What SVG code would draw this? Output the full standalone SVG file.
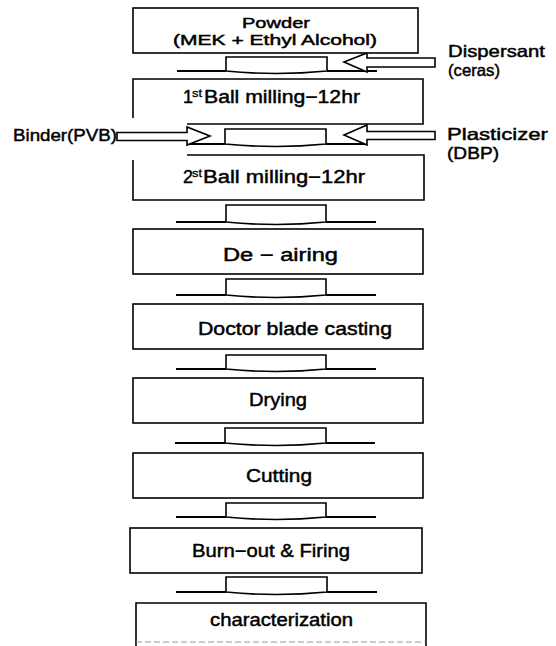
<svg xmlns="http://www.w3.org/2000/svg" width="556" height="646" viewBox="0 0 556 646">
<style>
.box{fill:#fff;stroke:#000;stroke-width:1.6}
.edge{fill:none;stroke:#000;stroke-width:1.6}
.tray{fill:#fff;stroke:#000;stroke-width:1.6}
.base{fill:none;stroke:#000;stroke-width:2}
.arr{fill:#fff;stroke:#000;stroke-width:1.6;stroke-linejoin:miter}
text{font-family:"Liberation Sans",Arial,sans-serif;fill:#000;stroke:#000;stroke-width:0.45}
.lbl{font-size:18px}
.side{font-size:16.5px}
.sm{font-size:14.5px}
.sup{font-size:11px;stroke-width:0.3}
</style>
<rect width="556" height="646" fill="#fff"/>
<g id="connectors">
  <g id="c1">
    <path class="tray" d="M226 71 V57 H327 V71 Q276 76 226 71 Z"/>
    <path class="base" d="M177 71 H226 M327 71 H377"/>
  </g>
  <g id="c2">
    <path class="tray" d="M225 144 V129 H326 V144 Q276 149 225 144 Z"/>
    <path class="base" d="M187 144 H225 M326 144 H367"/>
  </g>
  <g id="c3">
    <path class="tray" d="M226 222 V205 H326 V222 Q276 227 226 222 Z"/>
    <path class="base" d="M176 222 H226 M326 222 H376"/>
  </g>
  <g id="c4">
    <path class="tray" d="M226 295 V279 H326 V295 Q276 300 226 295 Z"/>
    <path class="base" d="M176 295 H226 M326 295 H376"/>
  </g>
  <g id="c5">
    <path class="tray" d="M226 369 V355 H326 V369 Q276 374 226 369 Z"/>
    <path class="base" d="M176 369 H226 M326 369 H376"/>
  </g>
  <g id="c6">
    <path class="tray" d="M225 443 V428 H326 V443 Q276 448 225 443 Z"/>
    <path class="base" d="M175 443 H225 M326 443 H375"/>
  </g>
  <g id="c7">
    <path class="tray" d="M226 517 V503 H326 V517 Q276 522 226 517 Z"/>
    <path class="base" d="M176 517 H226 M326 517 H376"/>
  </g>
  <g id="c8">
    <path class="tray" d="M226 592 V577 H327 V592 Q276 597 226 592 Z"/>
    <path class="base" d="M176 592 H226 M327 592 H377"/>
  </g>
  <g id="arrow-dispersant">
    <polygon class="arr" points="344,62 367,53 367,58 435,58 435,67 367,67 367,72"/>
  </g>
  <g id="arrow-binder">
    <polygon class="arr" points="210,136 187,127 187,132.5 117,132.5 117,140.5 187,140.5 187,145"/>
  </g>
  <g id="arrow-plasticizer">
    <polygon class="arr" points="344,135 367,125 367,131.5 435,131.5 435,139.5 367,139.5 367,145"/>
  </g>
</g>
<g id="powder">
  <rect class="box" x="133" y="8" width="285" height="45"/>
  <text class="sm" x="276" y="28" text-anchor="middle" textLength="68" lengthAdjust="spacingAndGlyphs">Powder</text>
  <text class="sm" x="275" y="45" text-anchor="middle" textLength="204" lengthAdjust="spacingAndGlyphs">(MEK + Ethyl Alcohol)</text>
</g>
<g id="ball1">
  <path class="edge" d="M133 118 V79 H423 V124 H187"/>
  <text class="lbl" x="183" y="103">1</text>
  <text class="sup" x="192" y="97" textLength="10" lengthAdjust="spacingAndGlyphs">st</text>
  <text class="lbl" x="204" y="103" textLength="156" lengthAdjust="spacingAndGlyphs">Ball milling−12hr</text>
</g>
<g id="ball2">
  <path class="edge" d="M187 155 H424 V200 H133 V160"/>
  <text class="lbl" x="183" y="183">2</text>
  <text class="sup" x="192" y="177" textLength="10" lengthAdjust="spacingAndGlyphs">st</text>
  <text class="lbl" x="203" y="183" textLength="162" lengthAdjust="spacingAndGlyphs">Ball milling−12hr</text>
</g>
<g id="deairing">
  <rect class="box" x="133" y="229" width="290" height="45"/>
  <text class="lbl" x="223" y="261" textLength="115" lengthAdjust="spacingAndGlyphs">De − airing</text>
</g>
<g id="casting">
  <rect class="box" x="133" y="304" width="290" height="45"/>
  <text class="lbl" x="198" y="335" textLength="194" lengthAdjust="spacingAndGlyphs">Doctor blade casting</text>
</g>
<g id="drying">
  <rect class="box" x="133" y="378" width="290" height="45"/>
  <text class="lbl" x="249" y="406" textLength="58" lengthAdjust="spacingAndGlyphs">Drying</text>
</g>
<g id="cutting">
  <rect class="box" x="133" y="453" width="290" height="45"/>
  <text class="lbl" x="246" y="482" textLength="66" lengthAdjust="spacingAndGlyphs">Cutting</text>
</g>
<g id="firing">
  <rect class="box" x="130" y="528" width="292" height="45"/>
  <text class="lbl" x="192" y="557" textLength="158" lengthAdjust="spacingAndGlyphs">Burn−out &amp; Firing</text>
</g>
<g id="characterization">
  <path class="edge" d="M136 646 V603 H426 V646"/>
  <path d="M136 642 H426" fill="none" stroke="#999" stroke-width="1" stroke-dasharray="6 3"/>
  <text class="lbl" x="210" y="626" textLength="143" lengthAdjust="spacingAndGlyphs">characterization</text>
</g>
<g id="labels">
  <text class="side" x="448" y="57" textLength="97" lengthAdjust="spacingAndGlyphs">Dispersant</text>
  <text class="side" x="448" y="76" textLength="52" lengthAdjust="spacingAndGlyphs">(ceras)</text>
  <text class="side" x="13" y="141" textLength="104" lengthAdjust="spacingAndGlyphs">Binder(PVB)</text>
  <text class="side" x="447" y="140" textLength="101" lengthAdjust="spacingAndGlyphs">Plasticizer</text>
  <text class="side" x="447" y="159" textLength="52" lengthAdjust="spacingAndGlyphs">(DBP)</text>
</g>
</svg>
